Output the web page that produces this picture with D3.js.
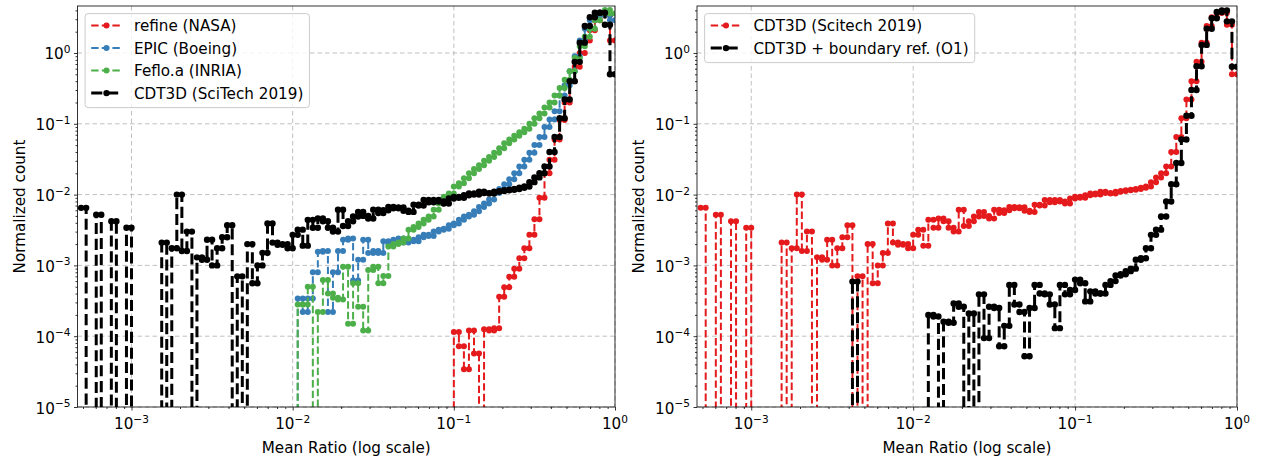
<!DOCTYPE html>
<html><head><meta charset="utf-8">
<script src="https://cdn.jsdelivr.net/npm/d3@7"></script>
<style>body{margin:0;background:#fff}svg{display:block}text{font-family:"DejaVu Sans",sans-serif;fill:#000}</style>
</head><body><svg id="c" width="1265" height="460"></svg>
<script>
// ---- data: log-spaced histogram bin edges (107) and bin values (106 per series) ----
const binEdges = [0.0004870,0.0005233,0.0005623,0.0006043,0.0006494,0.0006978,0.0007499,0.0008058,0.0008660,0.0009306,
0.001000,0.001075,0.001155,0.001241,0.001334,0.001433,0.001540,0.001655,0.001778,0.001911,
0.002054,0.002207,0.002371,0.002548,0.002738,0.002943,0.003162,0.003398,0.003652,0.003924,
0.004217,0.004532,0.004870,0.005233,0.005623,0.006043,0.006494,0.006978,0.007499,0.008058,
0.008660,0.009306,0.01000,0.01075,0.01155,0.01241,0.01334,0.01433,0.01540,0.01655,
0.01778,0.01911,0.02054,0.02207,0.02371,0.02548,0.02738,0.02943,0.03162,0.03398,
0.03652,0.03924,0.04217,0.04532,0.04870,0.05233,0.05623,0.06043,0.06494,0.06978,
0.07499,0.08058,0.08660,0.09306,0.1000,0.1075,0.1155,0.1241,0.1334,0.1433,
0.1540,0.1655,0.1778,0.1911,0.2054,0.2207,0.2371,0.2548,0.2738,0.2943,
0.3162,0.3398,0.3652,0.3924,0.4217,0.4532,0.4870,0.5233,0.5623,0.6043,
0.6494,0.6978,0.7499,0.8058,0.8660,0.9306,1.000];

const refineNASA = [0,0,0,0,0,0,0,0,0,0, 0,0,0,0,0,0,0,0,0,0, 0,0,0,0,0,0,0,0,0,0, 0,0,0,0,0,0,0,0,0,0,
0,0,0,0,0,0,0,0,0,0, 0,0,0,0,0,0,0,0,0,0, 0,0,0,0,0,0,0,0,0,0,
0,0,0,0,1.15e-4,7.2e-5,3.4e-5,1.2e-4,5.7e-5,0,
1.25e-4,1.2e-4,1.3e-4,3.6e-4,4.9e-4,6.9e-4,9.0e-4,1.26e-3,1.75e-3,2.7e-3,
4.5e-3,9.0e-3,2.0e-2,3.1e-2,6.0e-2,0.113,0.2,0.4,0.64,1.0,
1.5,2.1,2.9,3.6,3.4,1.5];

const epicBoeing = [0,0,0,0,0,0,0,0,0,0, 0,0,0,0,0,0,0,0,0,0, 0,0,0,0,0,0,0,0,0,0, 0,0,0,0,0,0,0,0,0,0,
0,0,0,3.4e-4,2.2e-4,3.4e-4,8.0e-4,1.56e-3,1.6e-3,2.2e-4,
8.0e-4,1.6e-3,2.3e-3,2.4e-3,6.1e-4,1.2e-3,2.3e-3,1.5e-3,1.6e-3,1.5e-3,
2.2e-3,2.0e-3,2.3e-3,2.4e-3,2.1e-3,2.3e-3,2.2e-3,2.5e-3,2.7e-3,2.6e-3,
3.0e-3,3.2e-3,3.3e-3,3.7e-3,3.9e-3,4.4e-3,4.9e-3,5.2e-3,5.8e-3,6.7e-3,
7.5e-3,8.5e-3,1.05e-2,1.2e-2,1.4e-2,1.65e-2,2.0e-2,2.5e-2,3.1e-2,3.9e-2,
5.0e-2,6.5e-2,9.0e-2,0.115,0.15,0.25,0.35,0.55,0.9,1.5,
2.2,2.9,3.4,3.6,3.4,2.9];

const fefloINRIA = [0,0,0,0,0,0,0,0,0,0, 0,0,0,0,0,0,0,0,0,0, 0,0,0,0,0,0,0,0,0,0, 0,0,0,0,0,0,0,0,0,0,
0,0,0,2.8e-4,2.8e-4,5.0e-4,0,2.2e-4,6.2e-4,4.0e-4,
3.5e-4,3.3e-4,9.6e-4,1.5e-4,5.6e-4,2.6e-4,1.2e-4,8.6e-4,9.6e-4,5.6e-4,
7.1e-4,1.85e-3,2.0e-3,2.1e-3,2.4e-3,3.2e-3,3.5e-3,3.9e-3,4.4e-3,4.9e-3,
6.1e-3,7.5e-3,9.3e-3,1.04e-2,1.3e-2,1.45e-2,1.7e-2,2.0e-2,2.3e-2,2.6e-2,
3.0e-2,3.4e-2,3.9e-2,4.5e-2,5.3e-2,6.0e-2,6.8e-2,7.6e-2,8.5e-2,0.1,
0.12,0.14,0.17,0.2,0.25,0.32,0.42,0.55,0.85,1.25,
1.7,2.2,2.9,3.6,4.05,3.6];

const cdt3dSciTech = [6.5e-3,0,0,5.2e-3,0,0,4.2e-3,0,0,3.4e-3,
0,0,0,0,0,0,2.1e-3,0,1.75e-3,1.0e-2,
1.6e-3,3.0e-3,0,1.3e-3,1.2e-3,2.3e-3,1.0e-3,1.75e-3,2.5e-3,3.7e-3,
0,7.0e-4,0,2.0e-3,5.6e-4,1.0e-3,1.5e-3,3.9e-3,2.1e-3,1.95e-3,
2.0e-3,1.75e-3,2.7e-3,3.2e-3,1.9e-3,4.4e-3,3.4e-3,4.6e-3,4.2e-3,3.4e-3,
3.0e-3,6.1e-3,3.6e-3,4.2e-3,4.9e-3,5.7e-3,5.0e-3,4.6e-3,6.1e-3,5.5e-3,
6.0e-3,6.7e-3,6.4e-3,6.6e-3,5.9e-3,5.7e-3,7.2e-3,7.0e-3,8.4e-3,7.8e-3,
8.4e-3,8.0e-3,7.5e-3,8.8e-3,9.3e-3,9.0e-3,9.8e-3,1.04e-2,1.0e-2,1.1e-2,
1.05e-2,1.04e-2,1.1e-2,1.12e-2,1.15e-2,1.17e-2,1.2e-2,1.25e-2,1.3e-2,1.5e-2,
1.75e-2,2.0e-2,2.5e-2,4.0e-2,6.5e-2,0.12,0.22,0.4,0.75,1.4,
2.4,3.2,3.7,3.7,2.5,0.5];

const cdt3dBoundaryRef = [0,0,0,0,0,0,0,0,0,0, 0,0,0,0,0,0,0,0,0,0, 0,0,0,0,0,0,0,0,0,0,
5.9e-4,0,0,0,0,0,0,0,0,0,
0,0,0,0,0,2.0e-4,1.9e-4,0,1.6e-4,1.55e-4,
2.9e-4,2.6e-4,0,2.1e-4,0,3.9e-4,9.4e-5,2.6e-4,2.5e-4,7.2e-5,
1.4e-4,5.3e-4,2.8e-4,2.2e-4,5.2e-5,2.5e-4,5.3e-4,4.0e-4,3.9e-4,2.8e-4,
1.3e-4,5.3e-4,3.9e-4,4.5e-4,6.3e-4,5.6e-4,3.1e-4,4.3e-4,4.0e-4,4.0e-4,
5.3e-4,6.0e-4,7.2e-4,7.5e-4,8.3e-4,9.0e-4,1.2e-3,1.26e-3,1.75e-3,2.7e-3,
3.2e-3,4.9e-3,8.0e-3,1.4e-2,2.8e-2,6.0e-2,0.13,0.3,0.65,1.3,
2.2,3.1,3.8,4.0,2.8,0.64];

const leftLabels = ["refine (NASA)", "EPIC (Boeing)", "Feflo.a (INRIA)", "CDT3D (SciTech 2019)"];
const rightLabels = ["CDT3D (Scitech 2019)", "CDT3D + boundary ref. (O1)"];
const xMajorTicks = [1e-3, 1e-2, 1e-1, 1];
const yMajorTicks = [1e-5, 1e-4, 1e-3, 1e-2, 1e-1, 1];
const xLabelText = "Mean Ratio (log scale)";
const yLabelText = "Normalized count";

// ---- styles ----
const C = {red:"#e41a1c", blue:"#377eb8", green:"#4daf4a", black:"#000000"};
const FS = 15.2, SUP = 10.6;
const svg = d3.select("#c");
const TOP = 6, BOTTOM = 407;
const X_MIN = 4.624e-4, X_MAX = 1, Y_MIN = 1e-5, Y_MAX = 4.61;

function minorTicks(lo, hi){
  const out=[];
  for(let e=-6;e<=1;e++) for(let m=2;m<=9;m++){const v=m*Math.pow(10,e); if(v>=lo&&v<=hi) out.push(v);}
  return out;
}
function expLabel(sel, v){
  const e = Math.round(Math.log10(v));
  sel.append("tspan").text("10");
  sel.append("tspan").attr("dy",-6.5).attr("font-size",SUP).text(e<0 ? "\u2212"+(-e) : String(e));
}

function panel(cfg){
  const xs = d3.scaleLog().domain([X_MIN,X_MAX]).range([cfg.x0,cfg.x1]);
  const ys = d3.scaleLog().domain([Y_MIN,Y_MAX]).range([BOTTOM,TOP]);
  const g = svg.append("g");
  const id = "clip"+cfg.id;
  svg.append("clipPath").attr("id",id).append("rect")
    .attr("x",cfg.x0).attr("y",TOP).attr("width",cfg.x1-cfg.x0).attr("height",BOTTOM-TOP);

  // grid
  const grid = g.append("g").attr("stroke","#b0b0b0").attr("stroke-width",0.8).attr("stroke-dasharray","4.5,3");
  xMajorTicks.forEach(t=>grid.append("line").attr("x1",xs(t)).attr("x2",xs(t)).attr("y1",TOP).attr("y2",BOTTOM));
  yMajorTicks.forEach(t=>grid.append("line").attr("y1",ys(t)).attr("y2",ys(t)).attr("x1",cfg.x0).attr("x2",cfg.x1));

  // axes (ticks)
  const ax = (gen)=>gen.tickFormat("").tickSizeOuter(0);
  const bx = g.append("g").attr("transform",`translate(0,${BOTTOM})`).call(ax(d3.axisBottom(xs).tickValues(xMajorTicks).tickSizeInner(3.5)));
  const bxm = g.append("g").attr("transform",`translate(0,${BOTTOM})`).call(ax(d3.axisBottom(xs).tickValues(minorTicks(X_MIN,X_MAX)).tickSizeInner(2)));
  const ly = g.append("g").attr("transform",`translate(${cfg.x0},0)`).call(ax(d3.axisLeft(ys).tickValues(yMajorTicks).tickSizeInner(3.5)));
  const lym = g.append("g").attr("transform",`translate(${cfg.x0},0)`).call(ax(d3.axisLeft(ys).tickValues(minorTicks(Y_MIN,Y_MAX)).tickSizeInner(2)));
  [bx,bxm,ly,lym].forEach(a=>{a.select(".domain").remove(); a.selectAll("line").attr("stroke","#000").attr("stroke-width",0.8);});

  // tick labels
  xMajorTicks.forEach(t=>{
    const tx = g.append("text").attr("x",xs(t)).attr("y",429).attr("text-anchor","middle").attr("font-size",FS);
    expLabel(tx,t);
  });
  yMajorTicks.forEach(t=>{
    const tx = g.append("text").attr("x",cfg.x0-7).attr("y",ys(t)+6.5).attr("text-anchor","end").attr("font-size",FS);
    expLabel(tx,t);
  });
  // axis labels
  g.append("text").attr("x",(cfg.x0+cfg.x1)/2).attr("y",453).attr("text-anchor","middle").attr("font-size",FS).text(xLabelText);
  g.append("text").attr("transform",`translate(${cfg.x0-53},${(TOP+BOTTOM)/2}) rotate(-90)`).attr("text-anchor","middle").attr("font-size",FS).text(yLabelText);

  // series
  const plot = g.append("g").attr("clip-path",`url(#${id})`);
  cfg.series.forEach(s=>{
    const pts = [];
    s.values.forEach((v,k)=>{ const y = v>0 ? v : 1e-30; pts.push([binEdges[k],y],[binEdges[k+1],y]); });
    const line = d3.line().x(d=>xs(d[0])).y(d=>ys(d[1]));
    plot.append("path").attr("d",line(pts)).attr("fill","none").attr("stroke",s.color)
      .attr("stroke-width",s.lw).attr("stroke-dasharray",s.dash).attr("stroke-linejoin","round");
    plot.append("g").selectAll("circle").data(pts.filter(d=>d[1]>1e-20)).join("circle")
      .attr("cx",d=>xs(d[0])).attr("cy",d=>ys(d[1])).attr("r",s.r).attr("fill",s.color);
  });

  // frame
  g.append("rect").attr("x",cfg.x0).attr("y",TOP).attr("width",cfg.x1-cfg.x0).attr("height",BOTTOM-TOP)
    .attr("fill","none").attr("stroke","#000").attr("stroke-width",0.8);

  // legend
  const lg = g.append("g");
  const lx = cfg.x0+7.6, lyTop = TOP+7.6, rowH = 22.5;
  const box = lg.append("rect").attr("x",lx).attr("y",lyTop).attr("rx",3).attr("height",cfg.series.length*rowH+4)
    .attr("fill","#fff").attr("fill-opacity",0.8).attr("stroke","#cccccc").attr("stroke-width",1);
  let maxW = 0;
  cfg.series.forEach((s,i)=>{
    const cy = lyTop + 12 + i*rowH;
    lg.append("line").attr("x1",lx+6.1).attr("x2",lx+36.7).attr("y1",cy).attr("y2",cy)
      .attr("stroke",s.color).attr("stroke-width",s.lw).attr("stroke-dasharray",s.dash);
    lg.append("circle").attr("cx",lx+21.4).attr("cy",cy).attr("r",s.r).attr("fill",s.color);
    const t = lg.append("text").attr("x",lx+48.9).attr("y",cy+5.5).attr("font-size",FS).text(s.label);
    maxW = Math.max(maxW, t.node().getComputedTextLength());
  });
  box.attr("width",48.9+maxW+6.1);
}

const thin = {lw:2, dash:"7.4,3.2", r:3};
const thick = {lw:3, dash:"11.1,4.8", r:3.2};
panel({id:"L", x0:77.5, x1:615, series:[
  Object.assign({label:leftLabels[0], color:C.red, values:refineNASA}, thin),
  Object.assign({label:leftLabels[1], color:C.blue, values:epicBoeing}, thin),
  Object.assign({label:leftLabels[2], color:C.green, values:fefloINRIA}, thin),
  Object.assign({label:leftLabels[3], color:C.black, values:cdt3dSciTech}, thick)
]});
panel({id:"R", x0:697, x1:1237, series:[
  Object.assign({label:rightLabels[0], color:C.red, values:cdt3dSciTech}, thin),
  Object.assign({label:rightLabels[1], color:C.black, values:cdt3dBoundaryRef}, thick)
]});
</script></body></html>
